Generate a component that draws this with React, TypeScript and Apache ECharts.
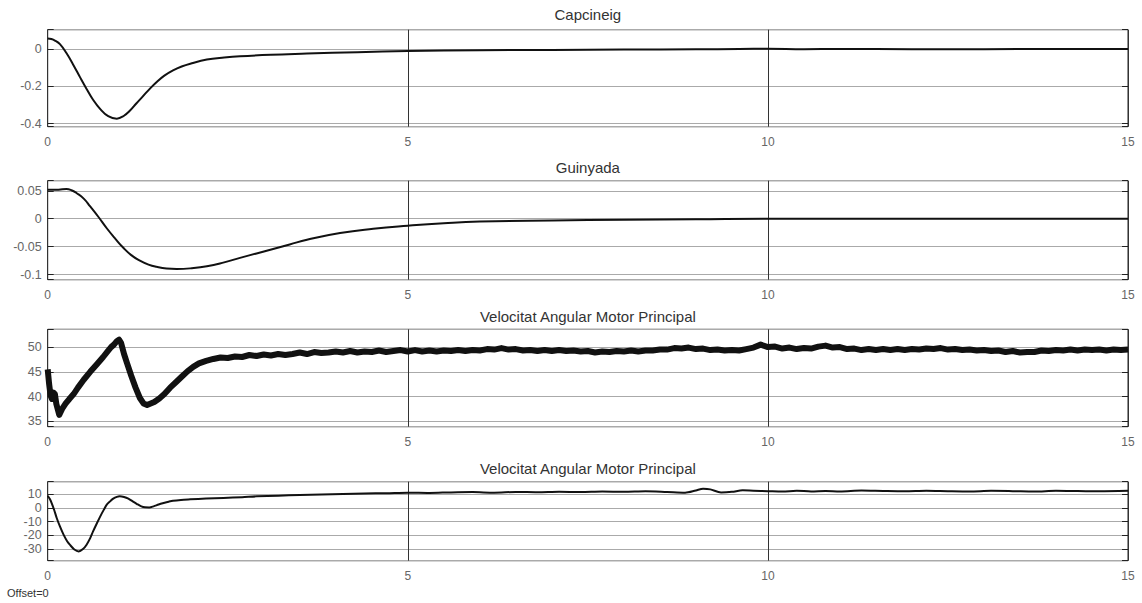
import React, { useEffect, useRef } from 'react';
import * as echarts from 'echarts';

const titles = [
  'Capcineig',
  'Guinyada',
  'Velocitat Angular Motor Principal',
  'Velocitat Angular Motor Principal',
];

const xRange = [0, 15];
const xStep = 5;

// [min, max, step] of each y axis
const yRanges: [number, number, number][] = [
  [-0.416, 0.103, 0.2],
  [-0.109, 0.068, 0.05],
  [33.9, 53.6, 5],
  [-38.5, 19.2, 10],
];

const capcineig: [number, number][] = [
  [0, 0.056], [0.05, 0.053], [0.1, 0.045], [0.17, 0.026], [0.26, -0.022], [0.36, -0.088], [0.45, -0.152],
  [0.54, -0.214], [0.63, -0.272], [0.73, -0.322], [0.84, -0.36], [0.96, -0.373], [1.05, -0.36],
  [1.14, -0.331], [1.23, -0.292], [1.33, -0.25], [1.42, -0.212], [1.51, -0.178], [1.62, -0.143],
  [1.74, -0.115], [1.86, -0.094], [1.98, -0.079], [2.21, -0.057], [2.45, -0.046], [2.67, -0.039],
  [3.1, -0.031], [3.6, -0.025], [4.3, -0.017], [5.0, -0.011], [6, -0.007], [7, -0.005], [8, -0.003],
  [9, -0.002], [9.6, 0.0], [10, 0.001], [10.5, -0.001], [11, 0], [12, -0.001], [12.3, -0.002],
  [13, -0.001], [14, 0], [15, 0],
];

const guinyada: [number, number][] = [
  [0, 0.0518], [0.15, 0.052], [0.26, 0.053], [0.33, 0.051], [0.4, 0.046], [0.5, 0.036],
  [0.59, 0.022], [0.7, 0.004], [0.82, -0.017], [0.94, -0.036], [1.05, -0.052], [1.16, -0.065],
  [1.28, -0.075], [1.4, -0.082], [1.51, -0.086], [1.65, -0.089], [1.79, -0.0898], [2.0, -0.0885],
  [2.21, -0.085], [2.45, -0.078], [2.67, -0.07], [2.9, -0.062], [3.13, -0.054], [3.36, -0.046],
  [3.6, -0.0375], [4.06, -0.0256], [4.52, -0.018], [5, -0.0125], [5.5, -0.008], [6, -0.005],
  [7, -0.003], [8, -0.002], [9, -0.001], [10, 0], [11, 0], [12, 0], [13, 0], [14, 0], [15, 0],
];

const velocitat1: [number, number][] = [
  [0, 45.5], [0.02, 42.5], [0.04, 40.2], [0.06, 39.5], [0.08, 40.8], [0.1, 40.5], [0.12, 38.5],
  [0.16, 36.3], [0.2, 37.5], [0.25, 38.6], [0.3, 39.5], [0.36, 40.5], [0.42, 41.8], [0.5, 43.4],
  [0.59, 45.0], [0.68, 46.5], [0.77, 48.0], [0.84, 49.3], [0.88, 50.0], [0.92, 50.5], [0.96, 51.2],
  [0.99, 51.5], [1.02, 50.8], [1.06, 48.6], [1.1, 46.8], [1.16, 44.2], [1.22, 41.8], [1.28, 39.7],
  [1.33, 38.6], [1.38, 38.3], [1.43, 38.6], [1.48, 38.9], [1.55, 39.6], [1.62, 40.5], [1.7, 41.8],
  [1.78, 42.9], [1.86, 44.0], [1.94, 45.1], [2.02, 46.0], [2.1, 46.7], [2.2, 47.2], [2.3, 47.6],
  [2.4, 47.9],
  [2.5, 47.8], [2.6, 48.1], [2.7, 48.0], [2.8, 48.4], [2.9, 48.2], [3.0, 48.5], [3.1, 48.3],
  [3.2, 48.6], [3.3, 48.4], [3.4, 48.6], [3.5, 48.9], [3.6, 48.6], [3.7, 49.0], [3.8, 48.8],
  [3.9, 48.9], [4.0, 49.1], [4.1, 48.9], [4.2, 49.2], [4.3, 48.9], [4.4, 49.1], [4.5, 49.0],
  [4.6, 49.3], [4.7, 49.0], [4.8, 49.2], [4.9, 49.4], [5.0, 49.1], [5.1, 49.4], [5.2, 49.1],
  [5.3, 49.3], [5.4, 49.1], [5.5, 49.3], [5.6, 49.2], [5.7, 49.4], [5.8, 49.2], [5.9, 49.4],
  [6.0, 49.3], [6.1, 49.6], [6.2, 49.5], [6.3, 49.8], [6.4, 49.5], [6.5, 49.6], [6.6, 49.3],
  [6.7, 49.4], [6.8, 49.2], [6.9, 49.4], [7.0, 49.2], [7.1, 49.4], [7.2, 49.2], [7.3, 49.3],
  [7.4, 49.1], [7.5, 49.2], [7.6, 48.9], [7.7, 49.1], [7.8, 49.0], [7.9, 49.2], [8.0, 49.1],
  [8.1, 49.3], [8.2, 49.1], [8.3, 49.3], [8.4, 49.3], [8.5, 49.5], [8.6, 49.5], [8.7, 49.8],
  [8.8, 49.7], [8.9, 49.9], [9.0, 49.6], [9.1, 49.7], [9.2, 49.4], [9.3, 49.5], [9.4, 49.3],
  [9.5, 49.4], [9.6, 49.3], [9.7, 49.6], [9.8, 49.9], [9.9, 50.5], [10.0, 50.0], [10.1, 50.1],
  [10.2, 49.7], [10.3, 49.9], [10.4, 49.6], [10.5, 49.8], [10.6, 49.7], [10.7, 50.1], [10.8, 50.3],
  [10.9, 49.9], [11.0, 50.0], [11.1, 49.6], [11.2, 49.7], [11.3, 49.4], [11.4, 49.6], [11.5, 49.4],
  [11.6, 49.6], [11.7, 49.4], [11.8, 49.6], [11.9, 49.4], [12.0, 49.6], [12.1, 49.5], [12.2, 49.7],
  [12.3, 49.6], [12.4, 49.8], [12.5, 49.5], [12.6, 49.6], [12.7, 49.4], [12.8, 49.5], [12.9, 49.3],
  [13.0, 49.4], [13.1, 49.2], [13.2, 49.3], [13.3, 49.0], [13.4, 49.2], [13.5, 48.9], [13.6, 49.0],
  [13.7, 49.0], [13.8, 49.3], [13.9, 49.2], [14.0, 49.4], [14.1, 49.3], [14.2, 49.5], [14.3, 49.3],
  [14.4, 49.5], [14.5, 49.4], [14.6, 49.5], [14.7, 49.3], [14.8, 49.5], [14.9, 49.4], [15.0, 49.5],
];

const velocitat2: [number, number][] = [
  [0, 8.8], [0.03, 6.5], [0.055, 3.6], [0.09, -1.5], [0.125, -7.3], [0.17, -13.5], [0.22, -19.5],
  [0.27, -24.3], [0.31, -27.0], [0.37, -30.3], [0.43, -31.7], [0.49, -30.0], [0.54, -26.8],
  [0.59, -22.0], [0.63, -17.1], [0.68, -11.5], [0.73, -6.1], [0.78, -1.2], [0.82, 2.4], [0.87, 5.0],
  [0.91, 6.8], [0.96, 8.1], [1.0, 8.5], [1.06, 8.0], [1.12, 6.8], [1.18, 4.8], [1.24, 2.9],
  [1.3, 1.2], [1.35, 0.5], [1.41, 0.4], [1.47, 1.2], [1.54, 2.5], [1.61, 3.6], [1.68, 4.6],
  [1.74, 5.3], [1.85, 5.9], [1.98, 6.3], [2.2, 6.9], [2.44, 7.3], [2.7, 7.9], [2.9, 8.5],
  [3.2, 9.0], [3.5, 9.5], [3.8, 9.8], [4.1, 10.3], [4.4, 10.6], [4.7, 10.8], [5.0, 11.2],
  [5.3, 11.0], [5.6, 11.4], [5.9, 11.6], [6.2, 11.2], [6.5, 11.7], [6.8, 11.5], [7.1, 11.9],
  [7.4, 11.6], [7.7, 12.0], [8.0, 11.8], [8.3, 12.2], [8.6, 11.7], [8.85, 11.2], [9.0, 12.8],
  [9.1, 14.0], [9.2, 13.6], [9.35, 11.4], [9.5, 11.8], [9.65, 12.9], [9.8, 12.6], [10.0, 12.3],
  [10.2, 12.0], [10.4, 12.6], [10.6, 12.1], [10.8, 12.4], [11.0, 12.0], [11.3, 12.7], [11.6, 12.4],
  [11.9, 12.2], [12.2, 12.6], [12.5, 12.3], [12.8, 12.1], [13.1, 12.5], [13.4, 12.3], [13.7, 12.0],
  [14.0, 12.5], [14.3, 12.4], [14.6, 12.2], [15.0, 12.5],
];

const seriesData = [capcineig, guinyada, velocitat1, velocitat2];
const offsetText = 'Offset=0';

const FONT = 'Liberation Sans, Arial, Helvetica, sans-serif';

export default function App() {
  const ref = useRef<HTMLDivElement>(null);

  useEffect(() => {
    if (!ref.current) return;
    const chart = echarts.init(ref.current, undefined, { renderer: 'svg' });

    const grids = [
      { top: 29.7, height: 97 },
      { top: 180.7, height: 99 },
      { top: 329.3, height: 97.4 },
      { top: 481.7, height: 79 },
    ];
    const left = 47.7;
    const width = 1080.3;
    const lineWidths = [2, 2, 6, 2];
    const smooths = [0.4, true, false, 0.3];
    const titleY = [14, 167, 316, 468];

    const fmt = (step: number) => (v: number) => {
      const r = v / step;
      if (Math.abs(r - Math.round(r)) > 1e-6) return '';
      return String(parseFloat((Math.round(r) * step).toFixed(4)));
    };

    const option: any = {
      animation: false,
      backgroundColor: '#fff',
      grid: grids.map((g) => ({
        left,
        top: g.top,
        width,
        height: g.height,
        show: true,
        borderColor: '#222',
        borderWidth: 1,
        backgroundColor: 'transparent',
        containLabel: false,
      })),
      xAxis: grids.map((_, i) => ({
        type: 'value',
        gridIndex: i,
        min: xRange[0],
        max: xRange[1],
        interval: xStep,
        axisLine: { show: false },
        axisTick: { show: false },
        axisLabel: { color: '#666', fontSize: 12, fontFamily: FONT, margin: 9 },
        splitLine: { show: true, lineStyle: { color: '#333', width: 1 } },
      })),
      yAxis: [
        ...grids.map((_, i) => ({
          type: 'value',
          gridIndex: i,
          min: yRanges[i][0],
          max: yRanges[i][1],
          splitNumber: Math.round((yRanges[i][1] - yRanges[i][0]) / yRanges[i][2]),
          minInterval: yRanges[i][2],
          maxInterval: yRanges[i][2],
          axisLine: { show: false },
          axisTick: { show: true, inside: true, length: 6, lineStyle: { color: '#222' } },
          axisLabel: { color: '#666', fontSize: 12.5, fontFamily: FONT, margin: 6, formatter: fmt(yRanges[i][2]) },
          splitLine: { show: true, lineStyle: { color: '#aaa', width: 1 } },
        })),
        ...grids.map((_, i) => ({
          type: 'value',
          gridIndex: i,
          position: 'right',
          min: yRanges[i][0],
          max: yRanges[i][1],
          splitNumber: Math.round((yRanges[i][1] - yRanges[i][0]) / yRanges[i][2]),
          minInterval: yRanges[i][2],
          maxInterval: yRanges[i][2],
          axisLine: { show: false },
          axisTick: { show: true, inside: true, length: 6, lineStyle: { color: '#222' } },
          axisLabel: { show: false },
          splitLine: { show: false },
        })),
      ],
      series: seriesData.map((d, i) => ({
        type: 'line',
        xAxisIndex: i,
        yAxisIndex: i,
        data: d,
        showSymbol: false,
        smooth: smooths[i],
        lineStyle: { color: '#111', width: lineWidths[i], join: 'round' },
        z: 5,
      })),
      graphic: [
        ...titles.map((t, i) => ({
          type: 'text',
          x: left + width / 2,
          y: titleY[i],
          style: {
            text: t,
            fill: '#333',
            font: `15px ${FONT}`,
            textAlign: 'center',
            textVerticalAlign: 'middle',
          },
        })),
        {
          type: 'text',
          x: 7,
          y: 593,
          style: {
            text: offsetText,
            fill: '#333',
            font: `11px ${FONT}`,
            textAlign: 'left',
            textVerticalAlign: 'middle',
          },
        },
      ],
    };

    chart.setOption(option);
    return () => chart.dispose();
  }, []);

  return (
    <div
      ref={ref}
      style={{ position: 'fixed', left: 0, top: 0, width: 1142, height: 603, background: '#fff' }}
    />
  );
}
